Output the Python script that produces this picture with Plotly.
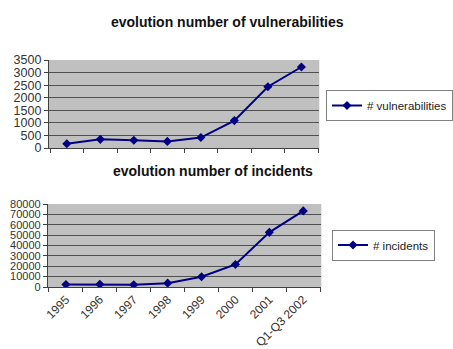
import plotly.graph_objects as go

categories = ["1995", "1996", "1997", "1998", "1999", "2000", "2001", "Q1-Q3 2002"]
vulnerabilities = [171, 345, 311, 262, 417, 1090, 2437, 3222]
incidents = [2412, 2573, 2134, 3734, 9859, 21756, 52658, 73359]

W, H = 453, 349
NAVY = "#000080"
FONT = "Liberation Sans, Arial, sans-serif"

def px(x):
    return x / W

def py(y):
    return 1 - y / H

fig = go.Figure()
fig.add_trace(go.Scatter(
    x=categories, y=vulnerabilities, name="# vulnerabilities",
    mode="lines+markers", line=dict(color=NAVY, width=2),
    marker=dict(symbol="diamond", size=7, color=NAVY),
    xaxis="x", yaxis="y", legend="legend",
))
fig.add_trace(go.Scatter(
    x=categories, y=incidents, name="# incidents",
    mode="lines+markers", line=dict(color=NAVY, width=2),
    marker=dict(symbol="diamond", size=7, color=NAVY),
    xaxis="x2", yaxis="y2", legend="legend2",
))

axis_common = dict(
    type="category", tickson="boundaries", ticks="outside", ticklen=4,
    tickcolor="#404040", showline=True, linecolor="#404040", linewidth=1,
    showgrid=False, zeroline=False, fixedrange=True, automargin=False,
    tickfont=dict(family=FONT, size=12, color="#333333"),
)
yaxis_common = dict(
    showline=True, linecolor="#404040", linewidth=1,
    showgrid=True, gridcolor="#505050", gridwidth=1,
    ticks="outside", ticklen=4, tickcolor="#404040",
    zeroline=False, fixedrange=True, automargin=False, tickformat="d",
)

fig.update_layout(
    width=W, height=H,
    margin=dict(l=0, r=0, t=0, b=0),
    paper_bgcolor="white", plot_bgcolor="#c0c0c0",
    showlegend=True,
    xaxis=dict(axis_common, domain=[px(49), px(320)], anchor="y",
               showticklabels=False),
    yaxis=dict(yaxis_common, domain=[py(148), py(60)], anchor="x",
               range=[0, 3500], dtick=500,
               tickfont=dict(family=FONT, size=12.5, color="#333333")),
    xaxis2=dict(axis_common, domain=[px(48), px(322)], anchor="y2",
                tickangle=-45),
    yaxis2=dict(yaxis_common, domain=[py(287), py(204)], anchor="x2",
                range=[0, 80000], dtick=10000,
                tickfont=dict(family=FONT, size=11, color="#333333")),
    legend=dict(x=px(327), y=py(105.5), xanchor="left", yanchor="middle",
                bgcolor="white", bordercolor="#808080", borderwidth=1,
                itemwidth=30, font=dict(family=FONT, size=11.5, color="#222222"),
                tracegroupgap=0),
    legend2=dict(x=px(332), y=py(245), xanchor="left", yanchor="middle",
                 bgcolor="white", bordercolor="#808080", borderwidth=1,
                 itemwidth=30, font=dict(family=FONT, size=11.5, color="#222222"),
                 tracegroupgap=0),
    annotations=[
        dict(text="<b>evolution number of vulnerabilities</b>", x=px(228), y=py(22),
             xref="paper", yref="paper", xanchor="center", yanchor="middle",
             showarrow=False, font=dict(family=FONT, size=14, color="#111111")),
        dict(text="<b>evolution number of incidents</b>", x=px(213), y=py(171),
             xref="paper", yref="paper", xanchor="center", yanchor="middle",
             showarrow=False, font=dict(family=FONT, size=14, color="#111111")),
    ],
)

fig.write_html("out.html", config={"displayModeBar": False},
               post_script="document.body.style.margin='0';")
